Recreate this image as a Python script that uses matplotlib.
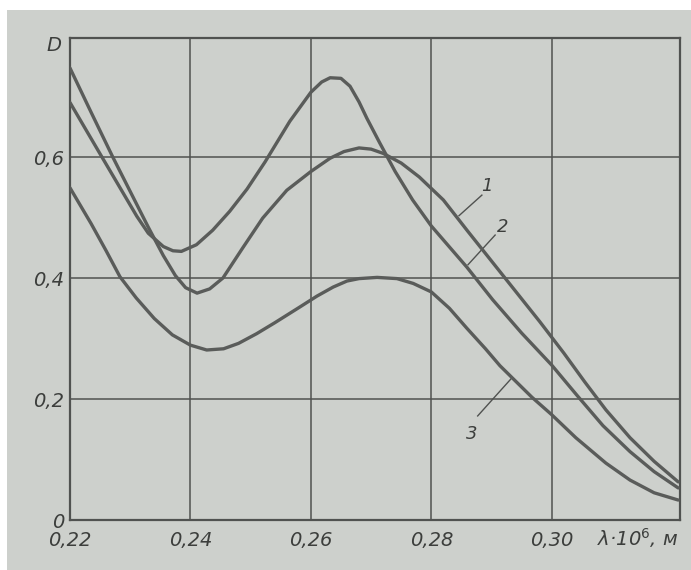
import numpy as np
import matplotlib.pyplot as plt
from matplotlib.patches import Rectangle

# curve data (wavelength * 1e6 m, optical density D)
x1 = [0.2200, 0.2235, 0.2271, 0.2300, 0.2330, 0.2355, 0.2375, 0.2392, 0.2411, 0.2432,
      0.2454, 0.2487, 0.2520, 0.2560, 0.2600, 0.2632, 0.2655, 0.2680, 0.2700, 0.2720,
      0.2750, 0.2780, 0.2820, 0.2860, 0.2900, 0.2940, 0.2980, 0.3020, 0.3055, 0.3090,
      0.3130, 0.3170, 0.3210]
d1 = [0.747, 0.674, 0.600, 0.543, 0.484, 0.437, 0.404, 0.384, 0.375, 0.382,
      0.400, 0.450, 0.499, 0.545, 0.576, 0.598, 0.609, 0.615, 0.613, 0.606,
      0.590, 0.567, 0.529, 0.478, 0.428, 0.378, 0.328, 0.276, 0.228, 0.182,
      0.136, 0.097, 0.063]

x2 = [0.2200, 0.2253, 0.2311, 0.2330, 0.2355, 0.2371, 0.2385, 0.2410, 0.2437, 0.2465,
      0.2494, 0.2524, 0.2565, 0.2600, 0.2618, 0.2632, 0.2650, 0.2665, 0.2680, 0.2693,
      0.2714, 0.2740, 0.2769, 0.2800, 0.2859, 0.2902, 0.2950, 0.3000, 0.3042, 0.3085,
      0.3130, 0.3170, 0.3210]
d2 = [0.690, 0.600, 0.502, 0.474, 0.452, 0.445, 0.444, 0.455, 0.479, 0.510,
      0.547, 0.592, 0.659, 0.707, 0.724, 0.731, 0.730, 0.717, 0.691, 0.664,
      0.624, 0.576, 0.529, 0.486, 0.418, 0.364, 0.309, 0.256, 0.206, 0.156,
      0.113, 0.080, 0.053]

x3 = [0.2200, 0.2235, 0.2260, 0.2283, 0.2310, 0.2340, 0.2370, 0.2400, 0.2427, 0.2455,
      0.2480, 0.2510, 0.2540, 0.2580, 0.2610, 0.2637, 0.2660, 0.2680, 0.2710, 0.2743,
      0.2770, 0.2800, 0.2830, 0.2859, 0.2890, 0.2914, 0.2967, 0.3000, 0.3040, 0.3090,
      0.3130, 0.3170, 0.3210]
d3 = [0.549, 0.490, 0.445, 0.402, 0.367, 0.333, 0.306, 0.289, 0.281, 0.283,
      0.292, 0.308, 0.326, 0.351, 0.370, 0.385, 0.395, 0.399, 0.401, 0.399,
      0.391, 0.377, 0.350, 0.317, 0.283, 0.255, 0.203, 0.174, 0.136, 0.094,
      0.066, 0.045, 0.033]

x_ticks = [0.22, 0.24, 0.26, 0.28, 0.30]
x_labels = ['0,22', '0,24', '0,26', '0,28', '0,30']
y_ticks = [0, 0.2, 0.4, 0.6]
y_labels = ['0', '0,2', '0,4', '0,6']

curve_names = ['1', '2', '3']
name_pos = [(0.2892, 0.552), (0.2919, 0.484), (0.2867, 0.142)]
leaders = [((0.2884, 0.537), (0.2846, 0.503)),
           ((0.2906, 0.471), (0.2861, 0.422)),
           ((0.2877, 0.172), (0.2933, 0.234))]

paper = '#cdd0cc'
ink = '#505250'

fig = plt.figure(figsize=(6.91, 5.70), dpi=100, facecolor='white')
# scanned paper area (white margin left and top)
fig.patches.append(Rectangle((7 / 691, 0), 1, 1 - 10 / 570, transform=fig.transFigure,
                             facecolor=paper, edgecolor='none', zorder=-10))

ax = fig.add_axes([70 / 691, 50 / 570, 610 / 691, 482 / 570])
ax.set_facecolor(paper)

for xs, ds in [(x1, d1), (x2, d2), (x3, d3)]:
    ax.plot(xs, ds, color='#5a5c5a', lw=2.4, solid_capstyle='round',
            solid_joinstyle='round', zorder=3)

ax.set_xlim(0.22, 0.3213)
ax.set_ylim(0, 0.7967)

ax.set_xticks(x_ticks)
ax.set_xticklabels(x_labels)
ax.set_yticks(y_ticks)
ax.set_yticklabels(y_labels)
ax.tick_params(length=0, labelsize=14, labelcolor='#3c3e3c')
ax.tick_params(axis='x', pad=8)
ax.tick_params(axis='y', pad=4)
for lab in ax.get_xticklabels() + ax.get_yticklabels():
    lab.set_fontstyle('italic')

ax.grid(True, color=ink, lw=1.1)
ax.set_axisbelow(True)
for s in ax.spines.values():
    s.set_color(ink)
    s.set_linewidth(1.6)

# curve numbers with leader lines
for name, (tx, ty), (p0, p1) in zip(curve_names, name_pos, leaders):
    ax.text(tx, ty, name, fontsize=13, style='italic', color='#3c3e3c',
            ha='center', va='center')
    ax.plot([p0[0], p1[0]], [p0[1], p1[1]], color=ink, lw=1.0)

# axis captions
ax.text(-0.027, 0.985, 'D', transform=ax.transAxes, fontsize=14, style='italic',
        color='#3c3e3c', ha='center', va='center')
ax.text(0.93, -0.038, 'λ·10$^6$, м', transform=ax.transAxes, fontsize=14,
        style='italic', color='#3c3e3c', ha='center', va='center')

fig.savefig('out.png', dpi=100, facecolor=fig.get_facecolor())
